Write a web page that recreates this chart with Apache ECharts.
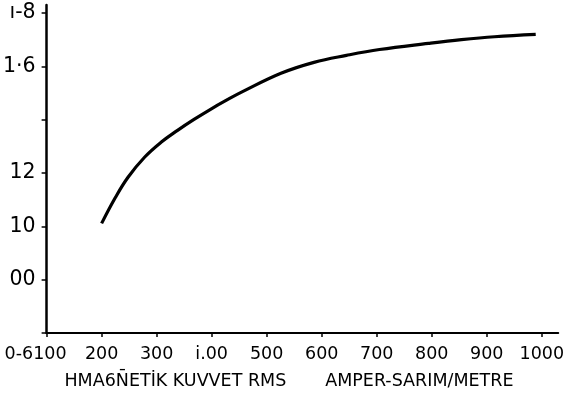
<!DOCTYPE html>
<html><head><meta charset="utf-8">
<script src="https://cdn.jsdelivr.net/npm/echarts@6/dist/echarts.min.js"></script>
<style>html,body{margin:0;padding:0;background:#fff}#c{width:567px;height:398px}</style>
</head><body><div id="c"></div>
<script>
// Data
const xValues = [200, 225, 248, 278, 308, 338, 368, 398, 427, 457, 526, 586, 645, 705, 794, 854, 914, 989];
const yValues = [1.011, 1.108, 1.184, 1.259, 1.315, 1.360, 1.401, 1.439, 1.473, 1.506, 1.574, 1.615, 1.641, 1.663, 1.686, 1.700, 1.711, 1.720];
const xTickLabels = {100: '0-6100', 200: '200', 300: '300', 400: 'i.00', 500: '500', 600: '600', 700: '700', 800: '800', 900: '900', 1000: '1000'};
const yTickLabels = {'0.6': '', '0.8': '00', '1.0': '10', '1.2': '12', '1.4': '', '1.6': '1·6', '1.8': 'ı-8'};
const xTitle = 'HMA6N\u0304ETİK KUVVET RMS       AMPER-SARIM/METRE';

const chart = echarts.init(document.getElementById('c'), null, {renderer: 'canvas'});
const font = 'DejaVu Sans';
chart.setOption({
  animation: false,
  backgroundColor: '#fff',
  grid: {left: 45.5, right: 2, top: 5, bottom: 65, containLabel: false},
  xAxis: {
    type: 'value', min: 100, max: 1030, interval: 100,
    axisLine: {show: true, lineStyle: {color: '#000', width: 2}},
    axisTick: {show: true, length: 4, lineStyle: {color: '#000', width: 1.5}},
    splitLine: {show: false},
    axisLabel: {
      showMaxLabel: false, color: '#000', fontFamily: font, fontSize: 17.5, margin: 12,
      formatter: v => {
        const t = xTickLabels[Math.round(v)];
        if (t === undefined) return '';
        return Math.round(v) === 100 ? '{a|' + t + '}' : t;
      },
      rich: {a: {color: '#000', fontFamily: font, fontSize: 17.5, padding: [0, 22, 0, 0]}}
    },
    name: xTitle, nameLocation: 'middle', nameGap: 39,
    nameTextStyle: {color: '#000', fontFamily: font, fontSize: 17.5, padding: [0, 27, 0, 0]}
  },
  yAxis: {
    type: 'value', min: 0.6, max: 1.83, interval: 0.2,
    axisLine: {show: true, lineStyle: {color: '#000', width: 2.5}},
    axisTick: {show: true, length: 5, lineStyle: {color: '#000', width: 1.5}},
    splitLine: {show: false},
    axisLabel: {
      showMaxLabel: false, color: '#000', fontFamily: font, fontSize: 20.5, margin: 11,
      formatter: v => { const t = yTickLabels[v.toFixed(1)]; return t === undefined ? '' : t; }
    }
  },
  series: [{
    type: 'line', smooth: 0.4, symbol: 'none',
    data: xValues.map((x, i) => [x, yValues[i]]),
    lineStyle: {color: '#000', width: 3.2}
  }]
});
</script></body></html>
